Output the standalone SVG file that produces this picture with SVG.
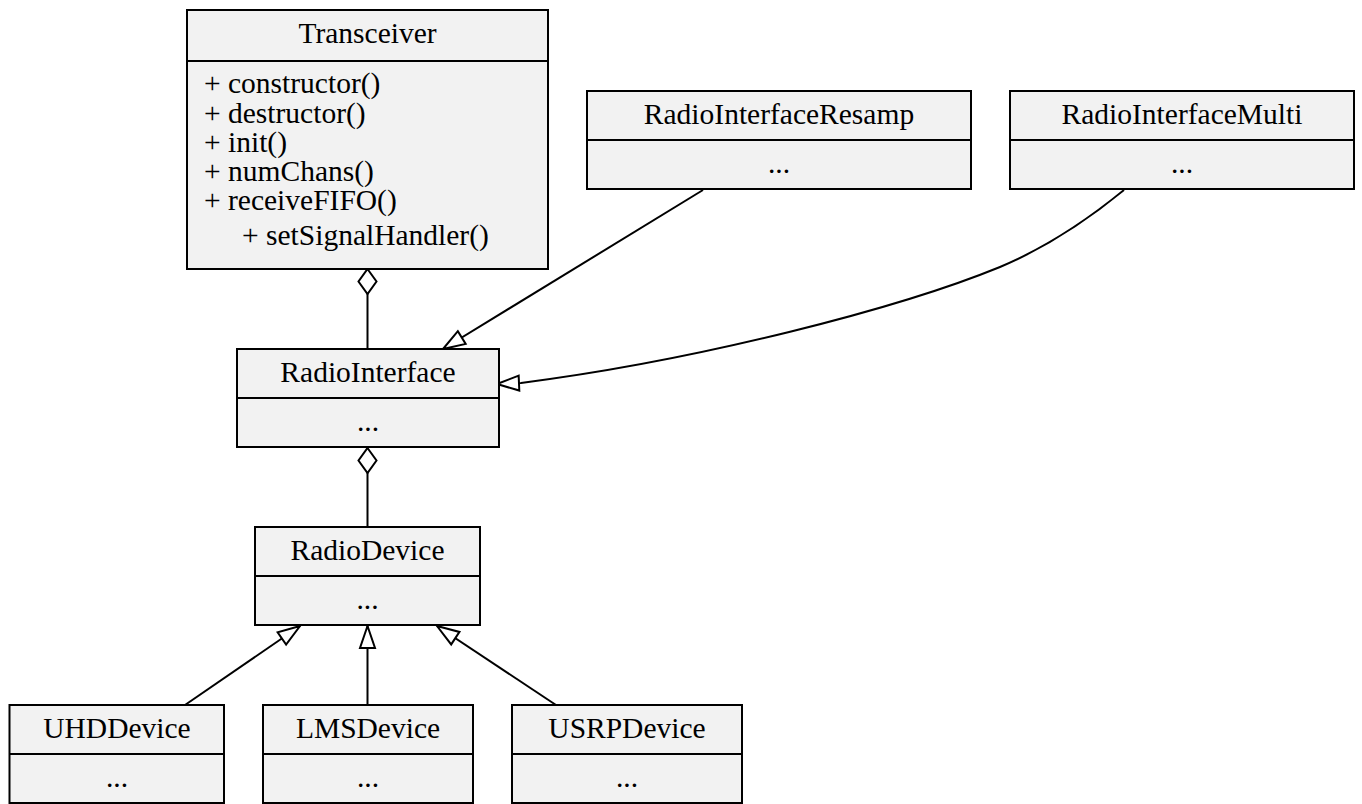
<svg xmlns="http://www.w3.org/2000/svg" width="1362" height="804" viewBox="0 0 1362 804">
<style>
.box{fill:#f2f2f2;stroke:#000;stroke-width:2}
.div{stroke:#000;stroke-width:2}
.t{font-family:"Liberation Serif","Times New Roman",serif;font-size:29.5px;fill:#000}
.c{text-anchor:middle}
.edge{fill:none;stroke:#000;stroke-width:2}
.inh{marker-end:url(#tri)}
.agg{marker-start:url(#dia)}
</style>
<defs>
<marker id="tri" markerUnits="userSpaceOnUse" viewBox="-25 -11 28 22" markerWidth="28" markerHeight="22" refX="0" refY="0" orient="auto">
<path d="M0,0 L-22,-7.5 L-22,7.5 Z" fill="#fff" stroke="#000" stroke-width="2" stroke-linejoin="miter"/>
</marker>
<marker id="dia" markerUnits="userSpaceOnUse" viewBox="-3 -11 31 22" markerWidth="31" markerHeight="22" refX="0" refY="0" orient="auto">
<path d="M0,0 L12.5,-9 L25,0 L12.5,9 Z" fill="#fff" stroke="#000" stroke-width="2"/>
</marker>
</defs>
<rect width="1362" height="804" fill="#fff"/>
<g id="connectors">
<path class="edge agg" d="M367.5,269 L367.5,349"/>
<path class="edge agg" d="M367.5,448 L367.5,527"/>
<path class="edge inh" d="M703,190 L443,349"/>
<path class="edge inh" d="M1124,190 C1085,222 1045,248 1000,267 C900,308 700,360 521,383 L497,384"/>
<path class="edge inh" d="M185,705 L300,626"/>
<path class="edge inh" d="M367.5,705 L367.5,626"/>
<path class="edge inh" d="M556,705 L437,626"/>
</g>
<g id="Transceiver">
<rect class="box" x="187" y="10" width="361" height="259"/>
<line class="div" x1="187" y1="61" x2="548" y2="61"/>
<text class="t c" x="367.5" y="43">Transceiver</text>
<text class="t" x="204" y="92.5">+ constructor()</text>
<text class="t" x="204" y="123">+ destructor()</text>
<text class="t" x="204" y="151.5">+ init()</text>
<text class="t" x="204" y="181">+ numChans()</text>
<text class="t" x="204" y="210">+ receiveFIFO()</text>
<text class="t" x="242" y="245">+ setSignalHandler()</text>
</g>
<g id="RadioInterfaceResamp">
<rect class="box" x="587" y="91" width="384" height="98"/>
<line class="div" x1="587" y1="140" x2="971" y2="140"/>
<text class="t c" x="779" y="124">RadioInterfaceResamp</text>
<text class="t c" x="779" y="173">...</text>
</g>
<g id="RadioInterfaceMulti">
<rect class="box" x="1010" y="91" width="344" height="98"/>
<line class="div" x1="1010" y1="140" x2="1354" y2="140"/>
<text class="t c" x="1182" y="124">RadioInterfaceMulti</text>
<text class="t c" x="1182" y="173">...</text>
</g>
<g id="RadioInterface">
<rect class="box" x="237" y="349" width="262" height="98"/>
<line class="div" x1="237" y1="398" x2="499" y2="398"/>
<text class="t c" x="368" y="382">RadioInterface</text>
<text class="t c" x="368" y="431">...</text>
</g>
<g id="RadioDevice">
<rect class="box" x="255" y="527" width="225" height="98"/>
<line class="div" x1="255" y1="576" x2="480" y2="576"/>
<text class="t c" x="367.5" y="560">RadioDevice</text>
<text class="t c" x="367.5" y="609">...</text>
</g>
<g id="UHDDevice">
<rect class="box" x="9.5" y="705" width="214.5" height="98"/>
<line class="div" x1="9.5" y1="754" x2="224" y2="754"/>
<text class="t c" x="117" y="738">UHDDevice</text>
<text class="t c" x="117" y="787">...</text>
</g>
<g id="LMSDevice">
<rect class="box" x="263" y="705" width="210" height="98"/>
<line class="div" x1="263" y1="754" x2="473" y2="754"/>
<text class="t c" x="368" y="738">LMSDevice</text>
<text class="t c" x="368" y="787">...</text>
</g>
<g id="USRPDevice">
<rect class="box" x="512" y="705" width="230" height="98"/>
<line class="div" x1="512" y1="754" x2="742" y2="754"/>
<text class="t c" x="627" y="738">USRPDevice</text>
<text class="t c" x="627" y="787">...</text>
</g>
</svg>
